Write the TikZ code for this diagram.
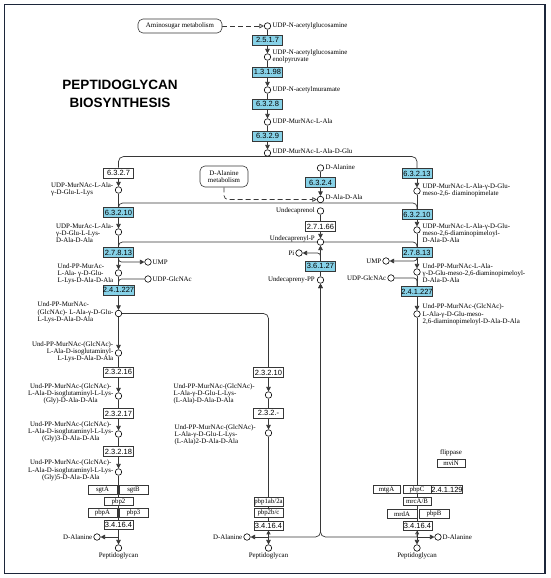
\documentclass[tikz,border=0pt]{standalone}
\usepackage{fontspec}
\setmainfont{Liberation Serif}
\newfontfamily\ecfont{Liberation Sans}
\usetikzlibrary{arrows.meta}
\definecolor{ecblue}{RGB}{135,210,232}
\definecolor{framec}{RGB}{28,38,58}
\definecolor{ln}{RGB}{55,55,55}
\pgfdeclarelayer{bg}
\pgfsetlayers{bg,main}
\tikzset{
 cpd/.style={circle,draw=black,fill=white,line width=0.6pt,inner sep=0pt,minimum size=6.5pt},
 ecb/.style={draw=ln,line width=0.6pt,fill=ecblue,minimum width=30pt,minimum height=10pt,inner sep=0pt,font=\ecfont\fontsize{7.5}{8}\selectfont},
 ecw/.style={ecb,fill=white},
 gene/.style={draw=ln,line width=0.6pt,fill=white,minimum width=29pt,minimum height=8.5pt,inner sep=0pt,font=\fontsize{6.8}{7}\selectfont},
 lbl/.style={inner sep=0pt,font=\fontsize{6.9}{7.3}\selectfont},
 mapbox/.style={draw=ln,rounded corners=5pt,fill=white,line width=0.6pt,inner sep=0pt,font=\fontsize{6.9}{7.3}\selectfont,align=center},
 rx/.style={draw=ln,line width=0.7pt},
 ar/.style={rx,-{Triangle[width=4.5pt,length=4.5pt]}},
 upar/.style={rx,-{Triangle[open,width=4pt,length=4pt]}},
 dsh/.style={rx,dash pattern=on 5pt off 3pt,-{Triangle[open,width=4.5pt,length=4.5pt]}},
 ttl/.style={align=center,inner sep=0pt,font=\ecfont\bfseries\fontsize{13.5}{18}\selectfont}
}
\begin{document}
\begin{tikzpicture}[x=1pt,y=-1pt]
\useasboundingbox (0,0) rectangle (550,578);
\begin{pgfonlayer}{bg}
\fill[white] (0,0) rectangle (550,578);
\end{pgfonlayer}
\draw[framec,line width=1.6pt] (4.5,4.5) rectangle (545,573.5);

\node[ttl] (title) at (120,94) {PEPTIDOGLYCAN\\BIOSYNTHESIS};

% main column
\node[mapbox,minimum width=84pt,minimum height=14pt] (m1) at (180,26) {Aminosugar metabolism};
\node[cpd] (c1) at (267.5,26) {};
\node[lbl,anchor=west] (t1) at (272.5,26) {UDP-N-acetylglucosamine};
\node[ecb] (e1) at (267.5,40) {2.5.1.7};
\node[cpd] (c2) at (267.5,57) {};
\node[lbl,anchor=west,align=left] (t2) at (272.5,56.5) {UDP-N-acetylglucosamine\\enolpyruvate};
\node[ecb] (e2) at (267.5,72) {1.3.1.98};
\node[cpd] (c3) at (267.5,90) {};
\node[lbl,anchor=west] (t3) at (272.5,89.5) {UDP-N-acetylmuramate};
\node[ecb] (e3) at (267.5,104) {6.3.2.8};
\node[cpd] (c4) at (267.5,122) {};
\node[lbl,anchor=west] (t4) at (272.5,121.5) {UDP-MurNAc-L-Ala};
\node[ecb] (e4) at (267.5,136) {6.3.2.9};
\node[cpd] (c5) at (267.5,153) {};
\node[lbl,anchor=west] (t5) at (272.5,151) {UDP-MurNAc-L-Ala-D-Glu};

% left column
\node[ecw] (e5) at (118.5,173) {6.3.2.7};
\node[cpd] (c6) at (118.5,190) {};
\node[lbl,anchor=east,align=left] (t6) at (113.5,189.5) {UDP-MurNAc-L-Ala-\\γ-D-Glu-L-Lys};
\node[ecb] (e6) at (118.5,212.5) {6.3.2.10};
\node[cpd] (c7) at (118.5,232) {};
\node[lbl,anchor=east,align=left] (t7) at (113.5,233) {UDP-MurAc-L-Ala-\\γ-D-Glu-L-Lys-\\D-Ala-D-Ala};
\node[ecb] (e7) at (118.5,252.5) {2.7.8.13};
\node[cpd] (cU1) at (148,262) {};
\node[lbl,anchor=west] (tU1) at (152.5,262) {UMP};
\node[cpd] (c8) at (118.5,273) {};
\node[lbl,anchor=east,align=left] (t8) at (113.5,274) {Und-PP-MurAc-\\L-Ala- γ-D-Glu-\\L-Lys-D-Ala-D-Ala};
\node[cpd] (cG1) at (148,279) {};
\node[lbl,anchor=west] (tG1) at (152.5,279) {UDP-GlcNAc};
\node[ecb] (e8) at (118.5,290) {2.4.1.227};
\node[cpd] (c9) at (118.5,313.5) {};
\node[lbl,anchor=east,align=left] (t9) at (113.5,312.5) {Und-PP-MurNAc-\\(GlcNAc)- L-Ala-γ-D-Glu-\\L-Lys-D-Ala-D-Ala};
\node[cpd] (c10) at (118.5,353) {};
\node[lbl,anchor=east,align=right] (t10) at (113.5,352) {Und-PP-MurNAc-(GlcNAc)-\\L-Ala-D-isoglutaminyl-\\L-Lys-D-Ala-D-Ala};
\node[ecw] (e9) at (118.5,372) {2.3.2.16};
\node[cpd] (c11) at (118.5,396) {};
\node[lbl,anchor=east,align=center] (t11) at (113.5,394) {Und-PP-MurNAc-(GlcNAc)-\\L-Ala-D-isoglutaminyl-L-Lys-\\(Gly)-D-Ala-D-Ala};
\node[ecw] (e10) at (118.5,413.5) {2.3.2.17};
\node[cpd] (c12) at (118.5,434) {};
\node[lbl,anchor=east,align=center] (t12) at (113.5,432) {Und-PP-MurNAc-(GlcNAc)-\\L-Ala-D-isoglutaminyl-L-Lys-\\(Gly)3-D-Ala-D-Ala};
\node[ecw] (e11) at (118.5,451.5) {2.3.2.18};
\node[cpd] (c13) at (118.5,472) {};
\node[lbl,anchor=east,align=center] (t13) at (113.5,470.5) {Und-PP-MurNAc-(GlcNAc)-\\L-Ala-D-isoglutaminyl-L-Lys-\\(Gly)5-D-Ala-D-Ala};
\node[gene] (g1) at (102.5,490) {sgtA};
\node[gene] (g2) at (133.5,490) {sgtB};
\node[gene] (g3) at (118.5,501.5) {pbp2};
\node[gene] (g4) at (102.5,513) {pbpA};
\node[gene] (g5) at (133.5,513) {pbp3};
\node[ecw,minimum width=29pt,minimum height=9pt] (e12) at (118.5,524.5) {3.4.16.4};
\coordinate (j1) at (118.5,537);
\node[cpd] (cD1) at (97,537) {};
\node[lbl,anchor=east] (tD1) at (92.5,537) {D-Alanine};
\node[cpd] (cP1) at (118.5,548) {};
\node[lbl,anchor=north] (tP1) at (118.5,552.5) {Peptidoglycan};

% middle column
\node[ecw] (e13) at (268.5,372.5) {2.3.2.10};
\node[cpd] (c14) at (268.5,395) {};
\node[lbl,anchor=east,align=left] (t14) at (255,394) {Und-PP-MurNAc-(GlcNAc)-\\L-Ala-γ-D-Glu-L-Lys-\\(L-Ala)-D-Ala-D-Ala};
\node[ecw] (e14) at (268.5,413) {2.3.2.-};
\node[cpd] (c15) at (268.5,433) {};
\node[lbl,anchor=east,align=left] (t15) at (256,435) {Und-PP-MurNAc-(GlcNAc)-\\L-Ala-γ-D-Glu-L-Lys-\\(L-Ala)2-D-Ala-D-Ala};
\node[gene] (g6) at (268.5,502) {pbp1ab/2a};
\node[gene] (g7) at (268.5,513) {pbp2b/c};
\node[ecw,minimum width=29pt,minimum height=9pt] (e15) at (268.5,525.5) {3.4.16.4};
\coordinate (j2) at (268.5,537);
\node[cpd] (cD2) at (247,537) {};
\node[lbl,anchor=east] (tD2) at (242.5,537) {D-Alanine};
\node[cpd] (cP2) at (268.5,548) {};
\node[lbl,anchor=north] (tP2) at (268.5,552.5) {Peptidoglycan};

% centre column
\node[cpd] (cDA) at (320.5,168) {};
\node[lbl,anchor=west] (tDA) at (325.5,167) {D-Alanine};
\node[ecb] (e16) at (320.5,182.5) {6.3.2.4};
\node[cpd] (cDD) at (320.5,199.5) {};
\node[lbl,anchor=west] (tDD) at (325.5,197) {D-Ala-D-Ala};
\node[mapbox,minimum width=48pt,minimum height=21pt] (m2) at (224,176.5) {D-Alanine\\metabolism};
\node[cpd] (cUo) at (320.5,211) {};
\node[lbl,anchor=east] (tUo) at (315,211) {Undecaprenol};
\node[ecw] (e17) at (320.5,226.5) {2.7.1.66};
\node[cpd] (cUP) at (320.5,242) {};
\node[lbl,anchor=east] (tUP) at (315,238.5) {Undecaprenyl-P};
\node[cpd] (cPi) at (299,253) {};
\node[lbl,anchor=east] (tPi) at (294.5,253) {Pi};
\node[ecb] (e18) at (320.5,266) {3.6.1.27};
\node[cpd] (cUPP) at (320.5,280) {};
\node[lbl,anchor=east] (tUPP) at (315,280) {Undecapreny-PP};

% right column
\node[ecb] (e19) at (417,173.5) {6.3.2.13};
\node[cpd] (c16) at (417,191) {};
\node[lbl,anchor=west,align=left] (t16) at (422.5,190) {UDP-MurNAc-L-Ala-γ-D-Glu-\\meso-2,6- diaminopimelate};
\node[ecb] (e20) at (417,214.5) {6.3.2.10};
\node[cpd] (c17) at (417,230) {};
\node[lbl,anchor=west,align=left] (t17) at (422.5,233) {UDP-MurNAc-L-Ala-γ-D-Glu-\\meso-2,6-diaminopimeloyl-\\D-Ala-D-Ala};
\node[ecb] (e21) at (417,252.5) {2.7.8.13};
\node[cpd] (cU2) at (386,261) {};
\node[lbl,anchor=east] (tU2) at (381.5,261) {UMP};
\node[cpd] (c18) at (417,272) {};
\node[lbl,anchor=west,align=left] (t18) at (422.5,273) {Und-PP-MurNAc-L-Ala-\\γ-D-Glu-meso-2,6-diaminopimeloyl-\\D-Ala-D-Ala};
\node[cpd] (cG2) at (391,278) {};
\node[lbl,anchor=east] (tG2) at (386.5,278) {UDP-GlcNAc};
\node[ecb] (e22) at (417,291.5) {2.4.1.227};
\node[cpd] (c19) at (417,314) {};
\node[lbl,anchor=west,align=left] (t19) at (422.5,314.5) {Und-PP-MurNAc-(GlcNAc)-\\L-Ala-γ-D-Glu-meso-\\2,6-diaminopimeloyl-D-Ala-D-Ala};
\node[lbl] (tfl) at (451,453) {flippase};
\node[gene,minimum width=28pt] (g13) at (451,463.5) {mviN};
\node[gene,minimum width=27pt] (g8) at (386.5,489.5) {mtgA};
\node[gene,minimum width=28pt] (g9) at (417,489.5) {pbpC};
\node[ecw,minimum height=8.5pt] (e23) at (447,489.5) {2.4.1.129};
\node[gene,minimum width=28pt] (g10) at (417,501.5) {mrcA/B};
\node[gene,minimum width=30pt] (g11) at (402,514) {mrdA};
\node[gene,minimum width=30pt] (g12) at (434,514) {pbpB};
\node[ecw,minimum width=29pt,minimum height=9pt] (e24) at (417.5,525.5) {3.4.16.4};
\coordinate (j3) at (417,537);
\node[cpd] (cD3) at (438,537) {};
\node[lbl,anchor=west] (tD3) at (442.5,537) {D-Alanine};
\node[cpd] (cP3) at (417,548) {};
\node[lbl,anchor=north] (tP3) at (417,552.5) {Peptidoglycan};

% helper coordinates
\coordinate (u1) at (118.5,257.5);
\coordinate (gA) at (118.5,285);
\coordinate (u2) at (417,257.5);
\coordinate (gB) at (417,286.5);
\coordinate (pA) at (320.5,259.5);

\begin{pgfonlayer}{bg}
\draw[dsh] (m1) -- (c1);
\draw[rx] (c1) -- (e1);
\draw[ar] (e1) -- (c2);
\draw[rx] (c2) -- (e2);
\draw[ar] (e2) -- (c3);
\draw[rx] (c3) -- (e3);
\draw[ar] (e3) -- (c4);
\draw[rx] (c4) -- (e4);
\draw[ar] (e4) -- (c5);
\draw[rx,rounded corners=5pt] (e5) |- (c5.south) -| (e19);
\draw[rx,rounded corners=4pt] (e6) |- (cDD.south) -| (e20);
\draw[rx,rounded corners=4pt] (e7) |- (cUP) -| (e21);
% left
\draw[ar] (e5) -- (c6);
\draw[rx] (c6) -- (e6);
\draw[ar] (e6) -- (c7);
\draw[rx] (c7) -- (e7);
\draw[ar] (e7) -- (c8);
\draw[rx] (c8) -- (e8);
\draw[ar] (e8) -- (c9);
\draw[ar,rounded corners=3pt] (u1) |- (cU1);
\draw[rx,rounded corners=3pt] (cG1) -| (gA);
\draw[ar] (c9) -- (c10);
\draw[rx] (c10) -- (e9);
\draw[ar] (e9) -- (c11);
\draw[rx] (c11) -- (e10);
\draw[ar] (e10) -- (c12);
\draw[rx] (c12) -- (e11);
\draw[ar] (e11) -- (c13);
\draw[rx] (c13) -- (j1);
\draw[ar] (j1) -- (cD1);
\draw[ar] (j1) -- (cP1);
% middle
\draw[rx,rounded corners=5pt] (c9) -| (e13);
\draw[ar] (e13) -- (c14);
\draw[rx] (c14) -- (e14);
\draw[ar] (e14) -- (c15);
\draw[rx] (c15) -- (j2);
\draw[ar] (j2) -- (cD2);
\draw[ar] (j2) -- (cP2);
\draw[upar] (j2) -- (e15);
% centre
\draw[rx] (cDA) -- (e16);
\draw[ar] (e16) -- (cDD);
\draw[dsh,rounded corners=4pt] (m2) |- (cDD);
\draw[rx] (cUo) -- (e17);
\draw[ar] (e17) -- (cUP);
\draw[ar] (e18) -- (cUP);
\draw[ar,rounded corners=3pt] (pA) |- (cPi);
\draw[rx] (cUPP) -- (e18);
\draw[ar,rounded corners=5pt] (j2) -| (cUPP);
\draw[ar,rounded corners=5pt] (j3) -| (cUPP);
% right
\draw[ar] (e19) -- (c16);
\draw[rx] (c16) -- (e20);
\draw[ar] (e20) -- (c17);
\draw[rx] (c17) -- (e21);
\draw[ar] (e21) -- (c18);
\draw[ar,rounded corners=3pt] (u2) |- (cU2);
\draw[rx,rounded corners=3pt] (cG2) -| (gB);
\draw[rx] (c18) -- (e22);
\draw[ar] (e22) -- (c19);
\draw[rx] (c19) -- (j3);
\draw[ar] (j3) -- (cD3);
\draw[ar] (j3) -- (cP3);
\draw[upar] (j3) -- (e24);
\end{pgfonlayer}
\end{tikzpicture}
\end{document}
